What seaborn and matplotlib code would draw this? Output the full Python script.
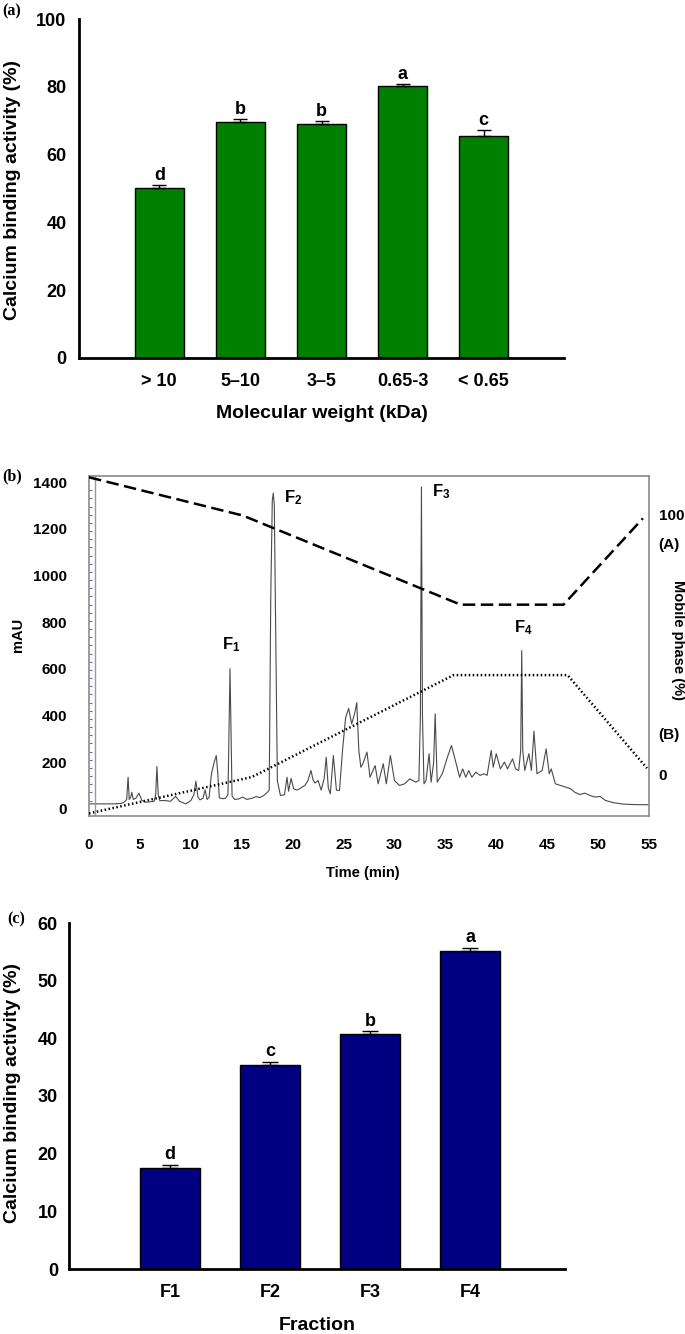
import matplotlib
matplotlib.use('Agg')
import matplotlib.pyplot as plt
import seaborn as sns
import pandas as pd
from matplotlib.ticker import MultipleLocator

# ---------------- data ----------------
mw_labels = ['> 10', '5–10', '3–5', '0.65-3', '< 0.65']
mw_activity = [50.1, 69.5, 69.0, 80.1, 65.5]
mw_err = [0.8, 0.9, 0.9, 0.7, 1.7]
mw_letters = ['d', 'b', 'b', 'a', 'c']

frac_labels = ['F1', 'F2', 'F3', 'F4']
frac_activity = [17.5, 35.4, 40.7, 55.2]
frac_err = [0.55, 0.5, 0.5, 0.5]
frac_letters = ['d', 'c', 'b', 'a']

# chromatogram trace (time in min, absorbance in mAU)
time_min = [0.0, 0.5, 1.5, 2.5, 3.2, 3.5, 3.7, 3.84, 3.95, 4.1, 4.2, 4.35, 4.6, 4.9, 5.2,
            5.6, 6.0, 6.4, 6.55, 6.67, 6.8, 6.95, 7.5, 8.0, 8.5, 8.9, 9.5, 10.0, 10.3, 10.5,
            10.7, 10.9, 11.2, 11.4, 11.6, 11.8, 12.0, 12.1, 12.3, 12.5, 12.65, 12.8, 13.1, 13.4,
            13.65, 13.85, 14.05, 14.3, 14.7, 15.1, 15.5, 16.0, 16.4, 16.8, 17.2, 17.5, 17.7,
            17.85, 18.0, 18.1, 18.2, 18.35, 18.5, 18.8, 19.2, 19.45, 19.6, 19.85, 20.1, 20.4,
            20.7, 21.0, 21.2, 21.5, 21.8, 22.0, 22.2, 22.5, 22.8, 23.1, 23.3, 23.5, 23.7, 24.0,
            24.3, 24.6, 24.9, 25.2, 25.5, 25.8, 26.1, 26.3, 26.5, 26.7, 26.9, 27.3, 27.6, 28.1,
            28.4, 28.9, 29.2, 29.6, 30.0, 30.5, 31.0, 31.5, 32.1, 32.4, 32.55, 32.65, 32.75,
            32.9, 33.1, 33.4, 33.6, 33.85, 34.0, 34.2, 34.7, 35.2, 35.6, 35.9, 36.4, 36.7, 37.0,
            37.3, 37.6, 38.0, 38.4, 38.8, 39.1, 39.5, 39.7, 40.0, 40.4, 40.8, 41.1, 41.6, 41.9,
            42.2, 42.4, 42.5, 42.6, 42.8, 43.2, 43.45, 43.7, 44.0, 44.5, 44.9, 45.2, 45.4, 45.8,
            46.3, 46.8, 47.3, 47.7, 48.2, 48.7, 49.2, 49.7, 50.2, 50.7, 51.5, 52.5, 53.5, 55.0]
mau = [21, 21, 21, 21, 23, 30, 40, 135, 40, 50, 71, 40, 45, 67, 35,
       28, 30, 32, 60, 181, 60, 35, 35, 32, 53, 32, 21, 35, 60, 118,
       50, 38, 45, 81, 40, 50, 140, 164, 200, 228, 150, 47, 43, 45,
       60, 600, 55, 40, 42, 50, 40, 45, 52, 48, 58, 70, 80,
       900, 1320, 1353, 1300, 700, 120, 57, 60, 135, 75, 130, 86, 80,
       86, 95, 100, 120, 164, 125, 110, 121, 80, 130, 221, 90, 64, 228,
       80, 78, 250, 390, 430, 364, 410, 455, 250, 178, 193, 243, 135, 185,
       107, 193, 107, 228, 121, 100, 107, 128, 114, 121, 400, 1379, 400,
       107, 121, 236, 114, 200, 407, 114, 150, 221, 271, 221, 135, 171, 135,
       164, 135, 157, 143, 150, 143, 250, 178, 236, 171, 200, 171, 214, 171,
       164, 250, 678, 250, 164, 236, 164, 332, 150, 164, 257, 150, 171, 107,
       100, 93, 86, 71, 61, 67, 57, 50, 53, 36, 26, 20, 18, 17]

# mobile phase gradient (%) on the right-hand scale
grad_a_time = [0, 15.1, 36.5, 46.6, 54.4]
grad_a_pct = [114.5, 99.8, 65.5, 65.5, 98.7]
grad_b_time = [0, 16.0, 35.8, 47.0, 54.8]
grad_b_pct = [-14.8, -0.8, 38.4, 38.4, 2.6]

peak_names = [r'F$_1$', r'F$_2$', r'F$_3$', r'F$_4$']
peak_label_time = [13.95, 20.1, 34.6, 42.7]
peak_label_mau = [704, 1335, 1357, 778]

# ---------------- style ----------------
sns.set_style('white')
plt.rcParams['font.family'] = ['Liberation Sans', 'DejaVu Sans']
plt.rcParams['font.weight'] = 'bold'
plt.rcParams['axes.labelweight'] = 'bold'
plt.rcParams['text.color'] = 'black'
plt.rcParams['axes.labelcolor'] = 'black'
plt.rcParams['xtick.color'] = 'black'
plt.rcParams['ytick.color'] = 'black'
plt.rcParams['mathtext.fontset'] = 'custom'
plt.rcParams['mathtext.rm'] = 'Liberation Sans:bold'
plt.rcParams['mathtext.it'] = 'Liberation Sans:bold'
plt.rcParams['mathtext.bf'] = 'Liberation Sans:bold'

W, H = 685, 1334
fig = plt.figure(figsize=(W / 100, H / 100), dpi=100)


def rect(l, r, t, b):
    return [l / W, 1 - b / H, (r - l) / W, (b - t) / H]


serif = ['Liberation Serif', 'DejaVu Serif']

# ---------------- panel (a) ----------------
axa = fig.add_axes(rect(79, 564, 19, 358))
dfa = pd.DataFrame({'mw': mw_labels, 'act': mw_activity})
sns.barplot(data=dfa, x='mw', y='act', color='#008000', saturation=1,
            edgecolor='black', linewidth=1.0, width=0.6, errorbar=None, ax=axa)
axa.errorbar(range(len(mw_labels)), mw_activity,
             yerr=[[0] * len(mw_err), mw_err], fmt='none',
             ecolor='black', elinewidth=1.0, capsize=5, capthick=1.0)
for i, (v, e, L) in enumerate(zip(mw_activity, mw_err, mw_letters)):
    axa.text(i, v + e + 1.6, L, ha='center', va='baseline', fontsize=13,
             fontweight='bold', color='black')
axa.set_xlim(-0.99, 4.99)
axa.set_ylim(0, 100)
axa.set_yticks([0, 20, 40, 60, 80, 100])
sns.despine(ax=axa)
for s in ['left', 'bottom']:
    axa.spines[s].set_linewidth(2)
    axa.spines[s].set_color('black')
axa.tick_params(axis='y', direction='in', length=4, width=1.5, pad=9,
                labelsize=13, colors='black')
axa.tick_params(axis='x', length=0, pad=11, labelsize=13, colors='black')
axa.set_ylabel('Calcium binding activity (%)', fontsize=14, fontweight='bold')
axa.set_xlabel('Molecular weight (kDa)', fontsize=14, fontweight='bold')
axa.yaxis.set_label_coords(-0.137, 0.496)
axa.yaxis.label.set_va('center')
axa.xaxis.set_label_coords(0.5, -0.165)
axa.xaxis.label.set_va('center')
fig.text(2 / W, 1 - 11 / H, '(a)', family=serif, fontweight='bold',
         fontsize=11.5, ha='left', va='center')

# ---------------- panel (b) ----------------
axb = fig.add_axes(rect(89, 649, 476, 816))
dfb = pd.DataFrame({'t': time_min, 'mau': mau})
sns.lineplot(data=dfb, x='t', y='mau', color='#4a4a4a', linewidth=0.8,
             estimator=None, sort=False, ax=axb)
axb.axvline(0.55, color='#9a9a9a', linewidth=1.0)
axb.set_xlim(0, 55)
axb.set_ylim(-31, 1426)
axb.set_xticks(range(0, 56, 5))
axb.set_yticks(range(0, 1401, 200))
axb.xaxis.set_minor_locator(MultipleLocator(1))
axb.yaxis.set_minor_locator(MultipleLocator(35))
axb.tick_params(which='major', length=0)
axb.tick_params(axis='x', which='major', pad=16, labelsize=11, colors='black')
axb.tick_params(axis='y', which='major', pad=16, labelsize=11, colors='black')
axb.tick_params(which='minor', direction='in', length=2.5, width=0.8,
                color='#6a6fb0')
for s in axb.spines.values():
    s.set_color('#8a8a8a')
    s.set_linewidth(1.2)
axb.set_xlabel('Time (min)', fontsize=10.5, fontweight='bold')
axb.set_ylabel('mAU', fontsize=10.5, fontweight='bold')
axb.xaxis.set_label_coords(0.489, -0.168)
axb.xaxis.label.set_va('center')
axb.yaxis.set_label_coords(-0.127, 0.532)
axb.yaxis.label.set_va('center')
for name, tx, ty in zip(peak_names, peak_label_time, peak_label_mau):
    axb.text(tx, ty, name, ha='center', va='center', fontsize=12,
             fontweight='bold', color='black')

ax2 = axb.twinx()
sns.lineplot(x=grad_a_time, y=grad_a_pct, color='black', linewidth=1.8,
             linestyle=(0, (5, 2.2)), ax=ax2)
sns.lineplot(x=grad_b_time, y=grad_b_pct, color='black', linewidth=1.8,
             linestyle=(0, (0.6, 1.0)), ax=ax2)
ax2.set_ylim(-15.8, 115)
ax2.set_yticks([0, 15.8, 89.2, 100])
ax2.set_yticklabels(['0', '(B)', '(A)', '100'])
ax2.tick_params(axis='y', length=0, pad=7, labelsize=11, colors='black')
for s in ax2.spines.values():
    s.set_visible(False)
ax2.set_ylabel('Mobile phase (%)', fontsize=10.5, fontweight='bold',
               rotation=270)
ax2.yaxis.set_label_coords(1.052, 0.518)
ax2.yaxis.label.set_va('center')
fig.text(2 / W, 1 - 476 / H, '(b)', family=serif, fontweight='bold',
         fontsize=11.5, ha='left', va='center')

# ---------------- panel (c) ----------------
axc = fig.add_axes(rect(69, 565, 923, 1269))
dfc = pd.DataFrame({'frac': frac_labels, 'act': frac_activity})
sns.barplot(data=dfc, x='frac', y='act', color='#000080', saturation=1,
            edgecolor='black', linewidth=1.0, width=0.6, errorbar=None, ax=axc)
axc.errorbar(range(len(frac_labels)), frac_activity,
             yerr=[[0] * len(frac_err), frac_err], fmt='none',
             ecolor='black', elinewidth=1.0, capsize=6, capthick=1.0)
for i, (v, e, L) in enumerate(zip(frac_activity, frac_err, frac_letters)):
    axc.text(i, v + e + 1.0, L, ha='center', va='baseline', fontsize=13,
             fontweight='bold', color='black')
axc.set_xlim(-1.01, 3.95)
axc.set_ylim(0, 60)
axc.set_yticks(range(0, 61, 10))
sns.despine(ax=axc)
for s in ['left', 'bottom']:
    axc.spines[s].set_linewidth(2)
    axc.spines[s].set_color('black')
axc.tick_params(axis='y', direction='in', length=4, width=1.5, pad=8,
                labelsize=13, colors='black')
axc.tick_params(axis='x', length=0, pad=11, labelsize=13, colors='black')
axc.set_ylabel('Calcium binding activity (%)', fontsize=14, fontweight='bold')
axc.set_xlabel('Fraction', fontsize=14, fontweight='bold')
axc.yaxis.set_label_coords(-0.113, 0.509)
axc.yaxis.label.set_va('center')
axc.xaxis.set_label_coords(0.5, -0.162)
axc.xaxis.label.set_va('center')
fig.text(7 / W, 1 - 919 / H, '(c)', family=serif, fontweight='bold',
         fontsize=11.5, ha='left', va='center')

fig.savefig('out.png', dpi=100)
